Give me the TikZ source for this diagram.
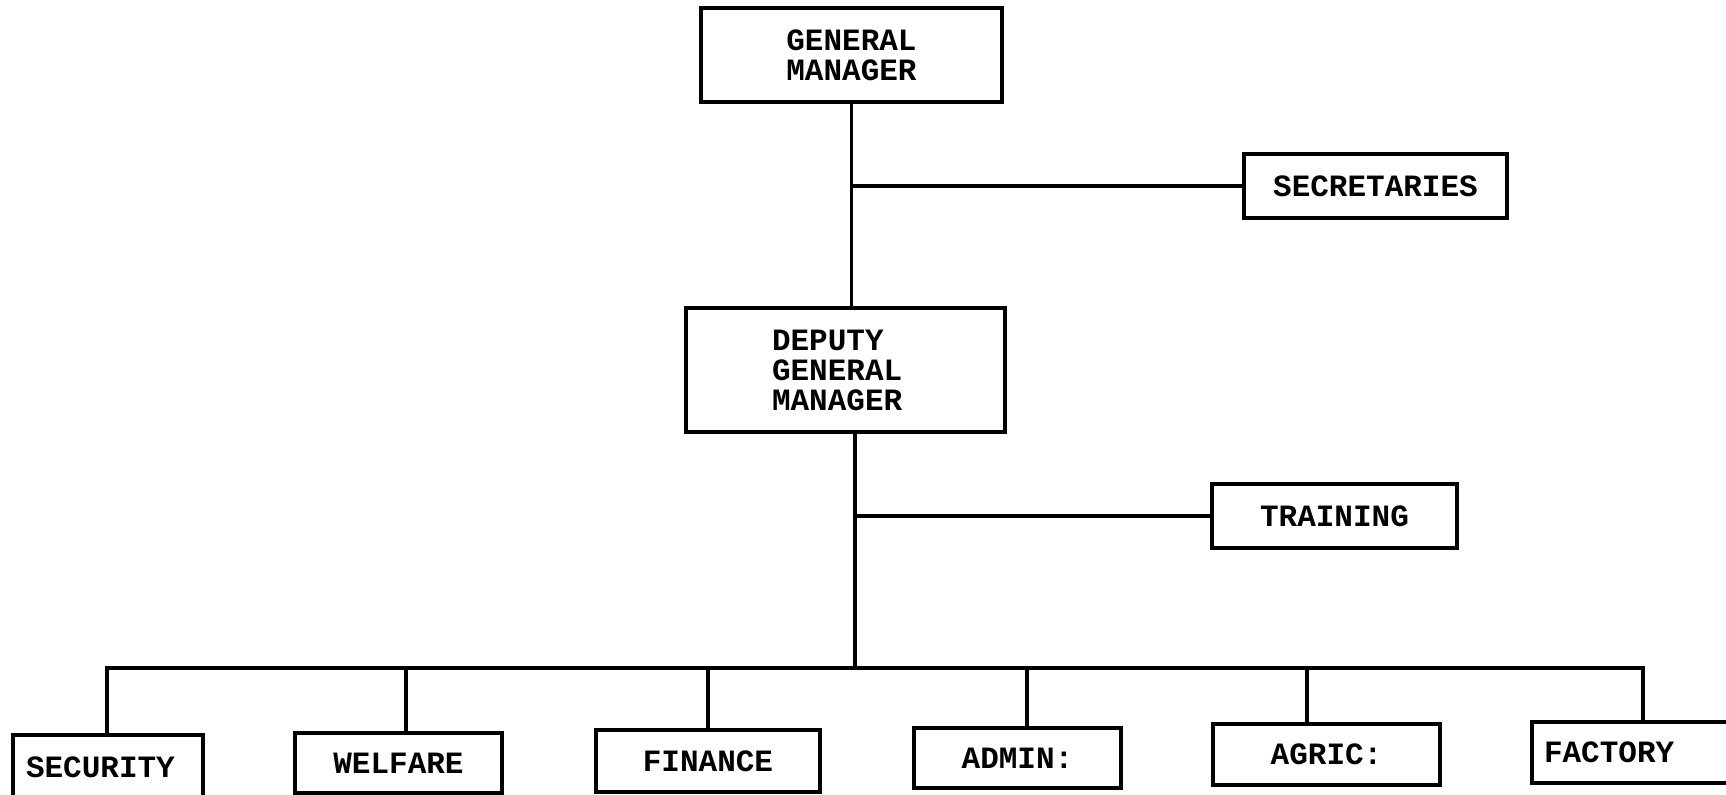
\documentclass[tikz,border=0pt]{standalone}
\usepackage{fontspec}
\newfontfamily\orgfont{Liberation Mono}
\usetikzlibrary{calc}

\begin{document}
\begin{tikzpicture}[x=0.5pt,y=-0.5pt]
% Chart style
\tikzset{
    unit/.style={draw, line width=1.7pt, inner sep=0pt,
        font=\orgfont\bfseries\fontsize{15.5}{15}\selectfont},
    link/.style={line width=1.7pt}
}
\useasboundingbox (0,0) rectangle (1726,795);
\clip (0,0) rectangle (1726,795);
% Management
\node[unit, minimum width=150.5pt, minimum height=47pt, align=center] (gm) at (851.5,55) {GENERAL\\MANAGER};
\node[unit, text width=73.5pt, inner xsep=43pt, minimum height=62pt, align=left] (dgm) at (845.5,370) {DEPUTY\\GENERAL\\MANAGER};
\node[unit, minimum width=131.5pt, minimum height=32pt] (sec) at (1375.5,186) {SECRETARIES};
\node[unit, minimum width=122.5pt, minimum height=32pt] (train) at (1334.5,516) {TRAINING};
% Departments
\node[unit, text width=82pt, inner xsep=6.5pt, minimum height=32pt, align=left] (security) at (108,767) {SECURITY};
\node[unit, minimum width=103.5pt, minimum height=30pt] (welfare) at (398.5,763) {WELFARE};
\node[unit, minimum width=112pt, minimum height=31pt] (finance) at (708,761) {FINANCE};
\node[unit, minimum width=103.5pt, minimum height=30pt] (admin) at (1017.5,758) {ADMIN:};
\node[unit, minimum width=113.5pt, minimum height=30.5pt] (agric) at (1326.5,754.5) {AGRIC:};
\node[unit, text width=92pt, inner xsep=6pt, minimum height=30.5pt, align=left] (factory) at (1636,752.5) {FACTORY};
% Connection
\draw[link] (gm.south) -- (gm.south |- dgm.north);
\draw[link] (gm.south |- sec.west) -- (sec.west);
\coordinate (hub) at (855,668);
\draw[link] (hub |- dgm.south) -- (hub);
\draw[link] (hub |- train.west) -- (train.west);
\foreach \n/\x in {security/107, welfare/406, finance/708, admin/1027, agric/1307, factory/1643}
    \coordinate (tap-\n) at (\x,668);
\draw[link] (tap-security |- security.north) -- (tap-security) -- (tap-factory) -- (tap-factory |- factory.north);
\foreach \n in {welfare,finance,admin,agric}
    \draw[link] (tap-\n) -- (tap-\n |- \n.north);

\end{tikzpicture}
\end{document}
